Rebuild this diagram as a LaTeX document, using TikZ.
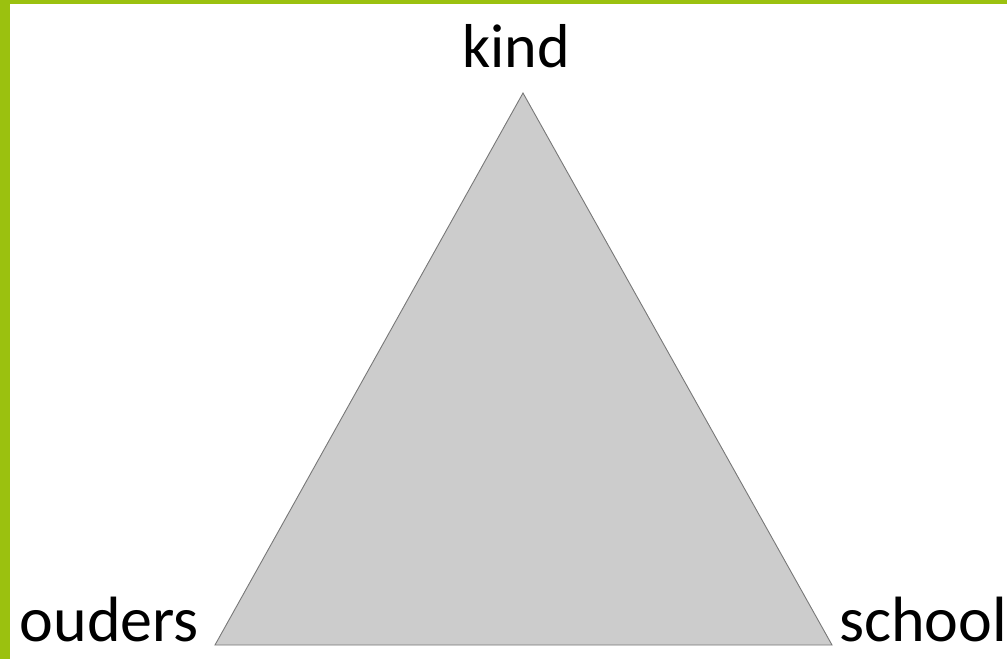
\documentclass[tikz,border=0pt]{standalone}
\usepackage{fontspec}
\setmainfont{Carlito}
\definecolor{bargreen}{RGB}{155,193,15}
\definecolor{trifill}{RGB}{204,204,204}
\definecolor{triline}{RGB}{120,120,120}
\tikzset{
  lbl/.style={inner sep=0pt, font=\fontsize{62}{70}\selectfont, text=black},
  lblb/.style={inner sep=0pt, font=\fontsize{64}{72}\selectfont, text=black},
  bar/.style={fill=bargreen, draw=none}
}
\begin{document}
\begin{tikzpicture}[x=1pt,y=-1pt]
\useasboundingbox (0,0) rectangle (1007,659);
\fill[white] (0,0) rectangle (1007,659);
\path[bar] (0,0) rectangle (1007,4);
\path[bar] (0,0) rectangle (10,659);
\coordinate (top) at (523,93);
\coordinate (bl) at (215,645);
\coordinate (br) at (832,645);
\draw[fill=trifill, draw=triline, line width=0.9pt, line join=miter] (top) -- (bl) -- (br) -- cycle;
\node[lbl, anchor=base] (kind) at (516,67) {kind};
\node[lblb, anchor=base east] (ouders) at (199,641) {ouders};
\node[lblb, anchor=base west] (school) at (839,641) {school};
\end{tikzpicture}
\end{document}
